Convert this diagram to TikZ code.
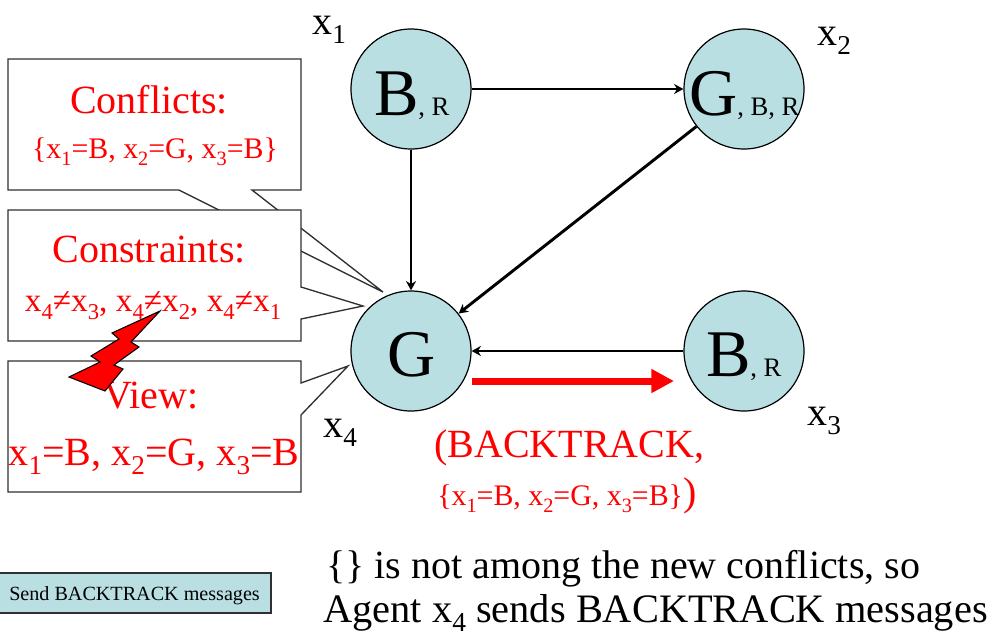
\documentclass[tikz,border=0pt]{standalone}
\usepackage{fontspec}
\setmainfont{Liberation Serif}
\usetikzlibrary{arrows.meta}
\definecolor{agent}{HTML}{B9DFE3}
\definecolor{edgegray}{HTML}{303030}
\newcommand{\fz}[1]{\fontsize{#1}{#1}\selectfont}
\newcommand{\xs}[1]{x\raisebox{-.24em}{\scalebox{.68}{#1}}}
\tikzset{
  agentnode/.style={circle,draw=black,line width=.9pt,fill=agent,minimum size=90pt,inner sep=0pt},
  link/.style={draw=black,line width=2.2pt,-{Stealth[length=7pt,width=7.5pt]},shorten >=0pt},
  callout/.style={draw=edgegray,line width=1pt,fill=white,line join=miter},
  txt/.style={inner sep=0pt,anchor=base},
  txtw/.style={inner sep=0pt,anchor=base west},
  red30/.style={txt,text=red,font=\fz{30}},
  red20/.style={txt,text=red,font=\fz{22.4}},
  black30/.style={txtw,font=\fz{30}},
  big/.style={txtw,font=\fz{50}},
  small/.style={txtw,font=\fz{20}},
}
\begin{document}
\begin{tikzpicture}[x=0.75pt,y=-0.75pt]
\useasboundingbox (0,0) rectangle (987,633);
% callouts
\draw[callout] (8,59) -- (301,59) -- (301,190) -- (252,190) -- (383,292) -- (179,190) -- (8,190) -- cycle;
\draw[callout] (8,210) -- (301,210) -- (301,287) -- (363,306) -- (301,319) -- (301,341) -- (8,341) -- cycle;
\draw[callout] (8,361) -- (301,361) -- (301,383) -- (348,366) -- (301,415) -- (301,492) -- (8,492) -- cycle;
\node[red30] (tconf) at (149,113) {Conflicts:};
\node[red20] (tconfs) at (155,158) {\{\xs{1}=B, \xs{2}=G, \xs{3}=B\}};
\node[red30] (tcons) at (149,262) {Constraints:};
\node[txt,text=red,font=\fz{25}] (tconss) at (153,311) {\xs{4}≠\xs{3}, \xs{4}≠\xs{2}, \xs{4}≠\xs{1}};
\node[red30] (tview) at (151,408) {View:};
\node[red30] (tviews) at (154,465) {\xs{1}=B, \xs{2}=G, \xs{3}=B};
% lightning
\draw[fill=red,draw=black,line width=.8pt,line join=miter] (160,311) -- (112,333) -- (119,339) -- (91,356) -- (100,362) -- (69,377) -- (105,391) -- (123,369) -- (114,365) -- (139,347) -- (131,342) -- cycle;
% agents
\node[agentnode] (a1) at (411,89) {};
\node[agentnode] (a2) at (744,89) {};
\node[agentnode] (a4) at (411,351) {};
\node[agentnode] (a3) at (744,351) {};
\draw[link] (a1) -- (a2);
\draw[link] (a1) -- (a4);
\draw[link] (a2) -- (a4);
\draw[link] (a3) -- (a4);
\coordinate (rs) at (472,381);
\coordinate (re) at (674,381);
\draw[draw=red,line width=5.25pt,-{Triangle[length=17pt,width=17pt]},shorten >=0pt] (rs) -- (re);
% agent labels
\node[big] (l1) at (374,115) {B};
\node[small] (l1s) at (418,115) {, R};
\node[big] (l2) at (689,115) {G};
\node[small] (l2s) at (737,115) {, B, R};
\node[big] (l4) at (387,376) {G};
\node[big] (l3) at (706,376) {B};
\node[small] (l3s) at (750,376) {, R};
\node[black30] (x1) at (312,34) {\xs{1}};
\node[black30] (x2) at (817,45) {\xs{2}};
\node[black30] (x3) at (807,425) {\xs{3}};
\node[black30] (x4) at (323,437) {\xs{4}};
% message
\node[txtw,text=red,font=\fz{30}] (m1) at (434,457) {(BACKTRACK,};
\node[txtw,text=red,font=\fz{22.4}] (m2) at (437,505) {\{\xs{1}=B, \xs{2}=G, \xs{3}=B\}\fz{30})};
% send box
\node[draw=edgegray,line width=1pt,fill=agent,minimum width=204pt,minimum height=30pt,inner sep=0pt] (send) at (135,593) {};
\node[txtw,font=\fz{15.1}] (sendt) at (9,600) {Send BACKTRACK messages};
% bottom text
\node[black30] (b1) at (326,578) {\{\} is not among the new conflicts, so};
\node[txtw,font=\fz{30.3}] (b2) at (323,622) {Agent \xs{4} sends BACKTRACK messages};
\end{tikzpicture}
\end{document}
